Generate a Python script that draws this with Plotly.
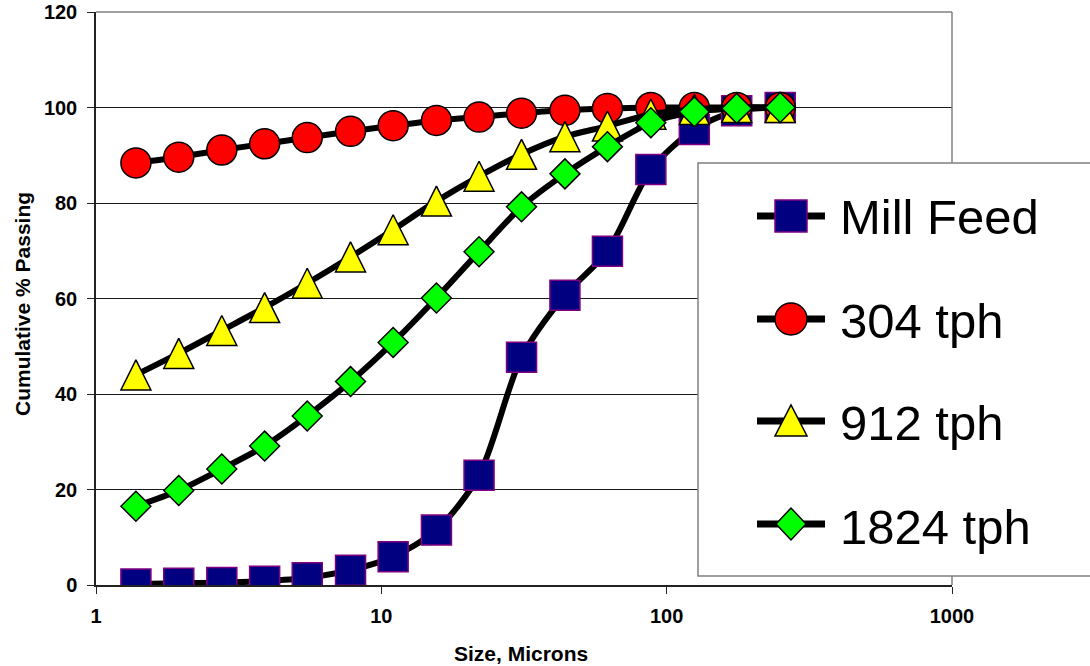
import plotly.graph_objects as go

# ---- data ----
sizes = [1.38, 1.95, 2.76, 3.9, 5.5, 7.8, 11, 15.6, 22, 31, 44, 62, 88, 125, 176, 250]
mill_feed = [0.2, 0.35, 0.5, 0.8, 1.5, 3.1, 5.9, 11.5, 23.0, 47.7, 60.7, 69.9, 87.0, 95.4, 99.3, 100]
tph_304 = [88.4, 89.6, 91.1, 92.4, 93.7, 95.0, 96.2, 97.3, 98.0, 98.8, 99.4, 99.8, 100, 100, 100, 100]
tph_912 = [44.0, 48.5, 53.3, 58.1, 63.2, 68.7, 74.4, 80.4, 85.6, 90.2, 93.9, 96.1, 98.6, 99.6, 100, 100]
tph_1824 = [16.5, 19.8, 24.3, 29.1, 35.4, 42.6, 50.8, 60.1, 69.8, 79.2, 86.1, 91.8, 96.8, 99.1, 99.8, 100]

series_names = ["Mill Feed", "304 tph", "912 tph", "1824 tph"]
x_tick_vals = [1, 10, 100, 1000]
x_tick_text = ["1", "10", "100", "1000"]

FONT = "Arial, 'Liberation Sans', sans-serif"

# ---- layout geometry (pixels) ----
W_FIG, H_FIG = 1090, 666
L, R, T, B = 96, 952, 12, 585
PW, PH = R - L, B - T


def px(x):
    return (x - L) / PW


def py(y):
    return (B - y) / PH


fig = go.Figure()

styles = [
    dict(symbol="square", size=30, color="#000080", line=dict(color="#800080", width=1.5)),
    dict(symbol="circle", size=30, color="#FF0000", line=dict(color="#000000", width=1.5)),
    dict(symbol="arrow-down", size=30, angle=180, standoff=15, color="#FFFF00",
         line=dict(color="#000000", width=1.5)),
    dict(symbol="diamond", size=23, color="#00FF00", line=dict(color="#000000", width=1.5)),
]

for name, ys, st in zip(series_names, [mill_feed, tph_304, tph_912, tph_1824], styles):
    fig.add_trace(go.Scatter(
        x=sizes, y=ys, name=name, mode="lines+markers",
        line=dict(color="black", width=6, shape="spline", smoothing=0.8),
        marker=st, showlegend=False,
    ))

shapes = []
annotations = []

# plot border top/right (gray)
shapes.append(dict(type="line", xref="paper", yref="paper", x0=0, x1=1, y0=1, y1=1,
                   line=dict(color="#808080", width=1.5), layer="above"))
shapes.append(dict(type="line", xref="paper", yref="paper", x0=1, x1=1, y0=0, y1=1,
                   line=dict(color="#808080", width=1.5), layer="above"))

# legend box
shapes.append(dict(type="rect", xref="paper", yref="paper",
                   x0=px(698), x1=px(1100), y0=py(576), y1=py(163),
                   fillcolor="white", line=dict(color="#808080", width=1.5), layer="above"))

leg_rows = [216, 319, 421, 524]
leg_text_y = [217, 321, 423, 527]
sx = 791
for i, (name, cy) in enumerate(zip(series_names, leg_rows)):
    shapes.append(dict(type="line", xref="paper", yref="paper",
                       x0=px(757), x1=px(825), y0=py(cy), y1=py(cy),
                       line=dict(color="black", width=7), layer="above"))
    if i == 0:
        shapes.append(dict(type="rect", xref="paper", yref="paper",
                           x0=px(sx - 16), x1=px(sx + 16), y0=py(cy + 16), y1=py(cy - 16),
                           fillcolor="#000080", line=dict(color="#800080", width=1.5), layer="above"))
    elif i == 1:
        shapes.append(dict(type="circle", xref="paper", yref="paper",
                           x0=px(sx - 16), x1=px(sx + 16), y0=py(cy + 16), y1=py(cy - 16),
                           fillcolor="#FF0000", line=dict(color="black", width=1.5), layer="above"))
    elif i == 2:
        path = "M{},{} L{},{} L{},{} Z".format(px(sx - 16), py(cy + 15), px(sx + 16), py(cy + 15),
                                                px(sx), py(cy - 16))
        shapes.append(dict(type="path", xref="paper", yref="paper", path=path,
                           fillcolor="#FFFF00", line=dict(color="black", width=1.5), layer="above"))
    else:
        path = "M{},{} L{},{} L{},{} L{},{} Z".format(px(sx - 15), py(cy), px(sx), py(cy - 16),
                                                       px(sx + 15), py(cy), px(sx), py(cy + 16))
        shapes.append(dict(type="path", xref="paper", yref="paper", path=path,
                           fillcolor="#00FF00", line=dict(color="black", width=1.5), layer="above"))
    annotations.append(dict(xref="paper", yref="paper", x=px(838), y=py(leg_text_y[i]),
                            xanchor="left", yanchor="middle", showarrow=False, text=name,
                            font=dict(family=FONT, size=49, color="black")))

# axis titles
annotations.append(dict(xref="paper", yref="paper", x=px(22), y=py(304), textangle=-90,
                        xanchor="center", yanchor="middle", showarrow=False,
                        text="Cumulative % Passing",
                        font=dict(family=FONT, size=21, color="black", weight="bold")))
annotations.append(dict(xref="paper", yref="paper", x=px(521), y=py(653),
                        xanchor="center", yanchor="middle", showarrow=False,
                        text="Size, Microns",
                        font=dict(family=FONT, size=21, color="black", weight="bold")))

fig.update_layout(
    width=W_FIG, height=H_FIG,
    margin=dict(l=L, r=W_FIG - R, t=T, b=H_FIG - B, autoexpand=False),
    paper_bgcolor="white", plot_bgcolor="white",
    shapes=shapes, annotations=annotations,
    xaxis=dict(type="log", range=[0, 3], tickvals=x_tick_vals, ticktext=x_tick_text,
               showgrid=False, zeroline=False, showline=True, linecolor="#222", linewidth=1.5,
               ticks="outside", ticklen=7, tickcolor="#222", tickwidth=1.2,
               ticklabelstandoff=5,
               tickfont=dict(family=FONT, size=20, color="black", weight="bold")),
    yaxis=dict(range=[0, 120], dtick=20, showgrid=True, gridcolor="#1a1a1a", gridwidth=1,
               zeroline=False, showline=True, linecolor="#222", linewidth=1.5,
               ticks="outside", ticklen=7, tickcolor="#222", tickwidth=1.2,
               ticklabelstandoff=6,
               tickfont=dict(family=FONT, size=20, color="black", weight="bold")),
)

fig.write_html(
    "out.html",
    config={"displayModeBar": False},
    post_script="document.body.style.margin='0';document.body.style.overflow='hidden';",
)
